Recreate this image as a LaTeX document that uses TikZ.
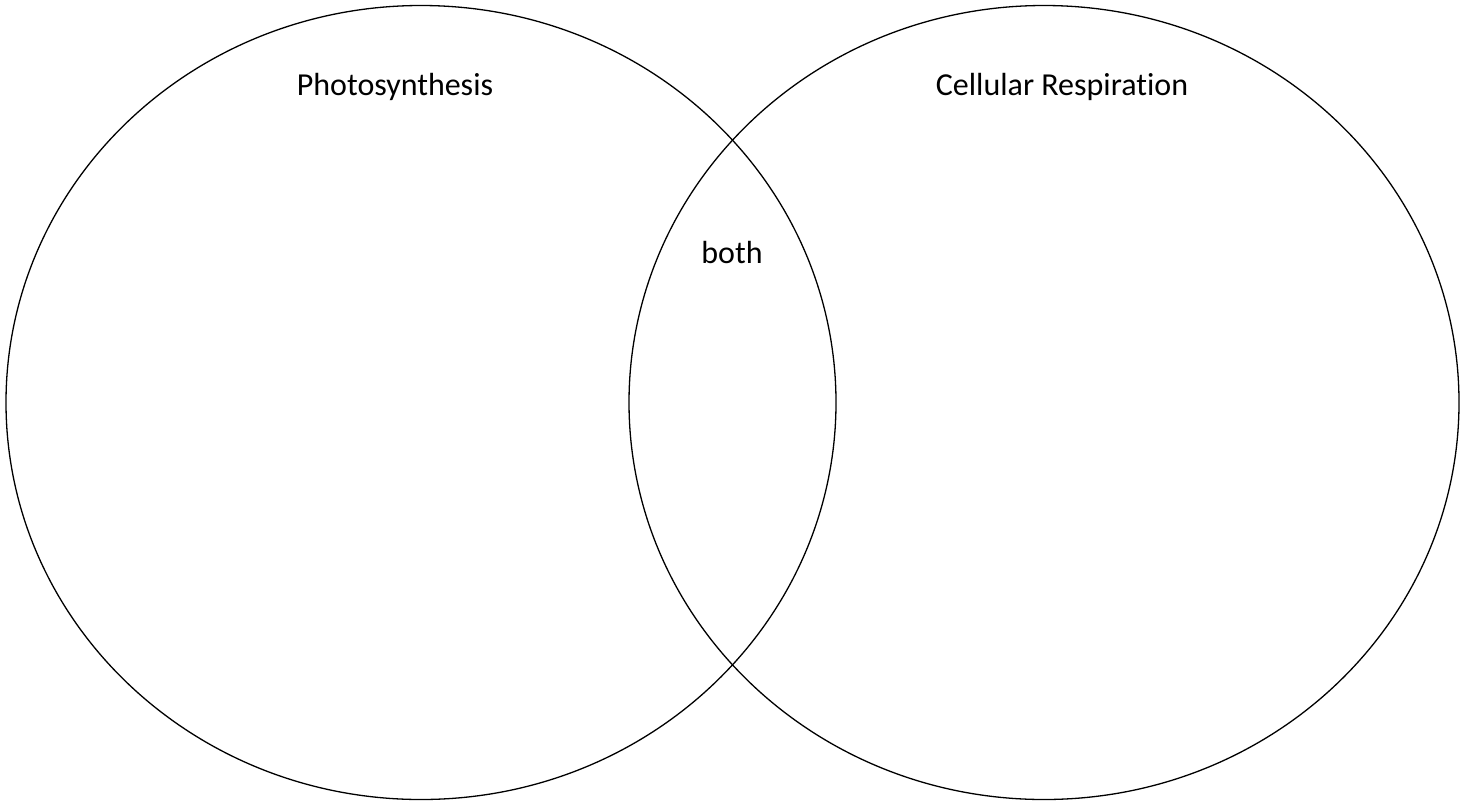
\documentclass[tikz,border=0pt]{standalone}
\usepackage{fontspec}
\setmainfont[Ligatures={NoCommon}]{Carlito}
\begin{document}
\begin{tikzpicture}[x=1pt,y=-1pt,
  ring/.style={draw=black,line width=1.3pt},
  lbl/.style={font=\fontsize{32}{38}\selectfont,anchor=base,inner sep=0pt}]
\useasboundingbox (0,0) rectangle (1471,804);
\fill[white] (0,0) rectangle (1471,804);
\draw[ring] (421,402.5) ellipse [x radius=415, y radius=397];
\draw[ring] (1044,402.5) ellipse [x radius=415, y radius=397];
\node[lbl] (photo) at (395,95) {Photosynthesis};
\node[lbl] (cell) at (1062,95) {Cellular Respiration};
\node[lbl] (both) at (732,263) {both};
\end{tikzpicture}
\end{document}
